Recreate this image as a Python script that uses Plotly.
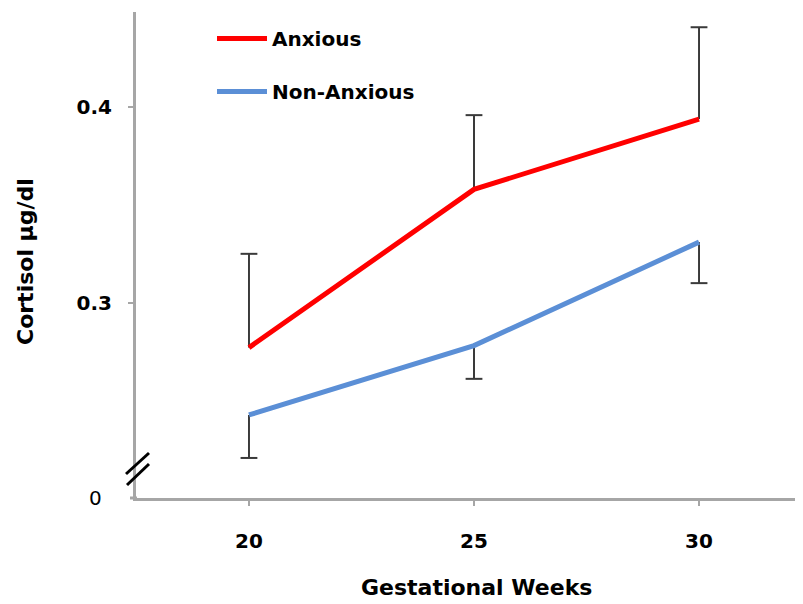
import plotly.graph_objects as go

weeks = [20, 25, 30]
anxious = [0.277, 0.358, 0.394]
anxious_err_up = [0.048, 0.038, 0.047]
non_anxious = [0.2425, 0.278, 0.331]
non_anxious_err_down = [0.022, 0.017, 0.021]
zeros = [0, 0, 0]
y_tickvals = [0.3, 0.4]
y_ticktext = ["0.3", "0.4"]
x_tickvals = [20, 25, 30]

FONT = "DejaVu Sans"
AXIS_GRAY = "#a6a6a6"
ERR_COLOR = "#3a3a3a"

anx_top = [v + e for v, e in zip(anxious, anxious_err_up)]
non_bot = [v - e for v, e in zip(non_anxious, non_anxious_err_down)]

fig = go.Figure()
# error bars (no caps) + caps as markers
fig.add_trace(go.Scatter(
    x=weeks, y=anxious, mode="none", showlegend=False, hoverinfo="skip",
    error_y=dict(type="data", array=anxious_err_up, arrayminus=zeros,
                 color=ERR_COLOR, thickness=2, width=0),
))
fig.add_trace(go.Scatter(
    x=weeks, y=anx_top, mode="markers", showlegend=False, hoverinfo="skip",
    marker=dict(symbol="line-ew", size=12, line=dict(color=ERR_COLOR, width=2)),
))
fig.add_trace(go.Scatter(
    x=weeks, y=non_anxious, mode="none", showlegend=False, hoverinfo="skip",
    error_y=dict(type="data", array=zeros, arrayminus=non_anxious_err_down,
                 color=ERR_COLOR, thickness=2, width=0),
))
fig.add_trace(go.Scatter(
    x=weeks, y=non_bot, mode="markers", showlegend=False, hoverinfo="skip",
    marker=dict(symbol="line-ew", size=12, line=dict(color=ERR_COLOR, width=2)),
))
fig.add_trace(go.Scatter(
    x=weeks, y=anxious, mode="lines", name="Anxious",
    line=dict(color="#ff0000", width=5), legendgroup="a",
))
fig.add_trace(go.Scatter(
    x=weeks, y=non_anxious, mode="lines", name="Non-Anxious",
    line=dict(color="#5b8fd6", width=5), legendgroup="b",
))

# page has an 8px body margin; figure is laid out to compensate
OFF = 8
W, H = 803 - OFF, 604 - OFF
L, R, T, B = 136 - OFF, 0, 12 - OFF, 106
pw, ph = W - L - R, H - T - B

def px(x):
    return (x - OFF - L) / pw

def py(y):
    return (H - B - (y - OFF)) / ph

fig.update_layout(
    width=W, height=H,
    margin=dict(l=L, r=R, t=T, b=B, autoexpand=False),
    paper_bgcolor="white", plot_bgcolor="white",
    font=dict(family=FONT, color="black"),
    showlegend=True,
    legend=dict(x=px(212), y=py(19), xanchor="left", yanchor="top",
                font=dict(family=FONT, size=20, weight="bold"),
                bgcolor="rgba(0,0,0,0)", tracegroupgap=24,
                itemwidth=50),
    xaxis=dict(range=[17.49, 32.31], tickvals=x_tickvals,
               showgrid=False, zeroline=False,
               showline=True, linecolor=AXIS_GRAY, linewidth=3,
               ticks="outside", ticklen=5, tickwidth=2, tickcolor=AXIS_GRAY,
               ticklabelstandoff=18,
               tickfont=dict(family=FONT, size=20, weight="bold")),
    yaxis=dict(range=[0.2, 0.4488], tickvals=y_tickvals, ticktext=y_ticktext,
               showgrid=False, zeroline=False,
               showline=True, linecolor=AXIS_GRAY, linewidth=3,
               ticks="outside", ticklen=5, tickwidth=2, tickcolor=AXIS_GRAY,
               ticklabelstandoff=12,
               tickfont=dict(family=FONT, size=20, weight="bold")),
)

# extend x-axis line slightly to the left of the y-axis
fig.add_shape(type="line", xref="paper", yref="paper",
              x0=px(130), x1=px(137), y0=0, y1=0,
              line=dict(color=AXIS_GRAY, width=3), layer="above")
# axis break marks
for (x0, y0, x1, y1) in [(126, 474, 149, 453), (127, 485, 149, 464)]:
    fig.add_shape(type="line", xref="paper", yref="paper",
                  x0=px(x0), y0=py(y0), x1=px(x1), y1=py(y1),
                  line=dict(color="black", width=3), layer="above")

fig.add_annotation(text="0", xref="paper", yref="y", x=px(95), y=0.2,
                   xanchor="center", yanchor="middle", showarrow=False,
                   font=dict(family=FONT, size=20))
fig.add_annotation(text="Gestational Weeks", xref="paper", yref="paper",
                   x=px(476), y=py(587), xanchor="center", yanchor="middle",
                   showarrow=False,
                   font=dict(family=FONT, size=22, weight="bold"))
fig.add_annotation(text="Cortisol µg/dl", xref="paper", yref="paper",
                   x=px(25), y=py(262), xanchor="center", yanchor="middle",
                   textangle=-90, showarrow=False,
                   font=dict(family=FONT, size=22, weight="bold"))

fig.write_html("out.html")
